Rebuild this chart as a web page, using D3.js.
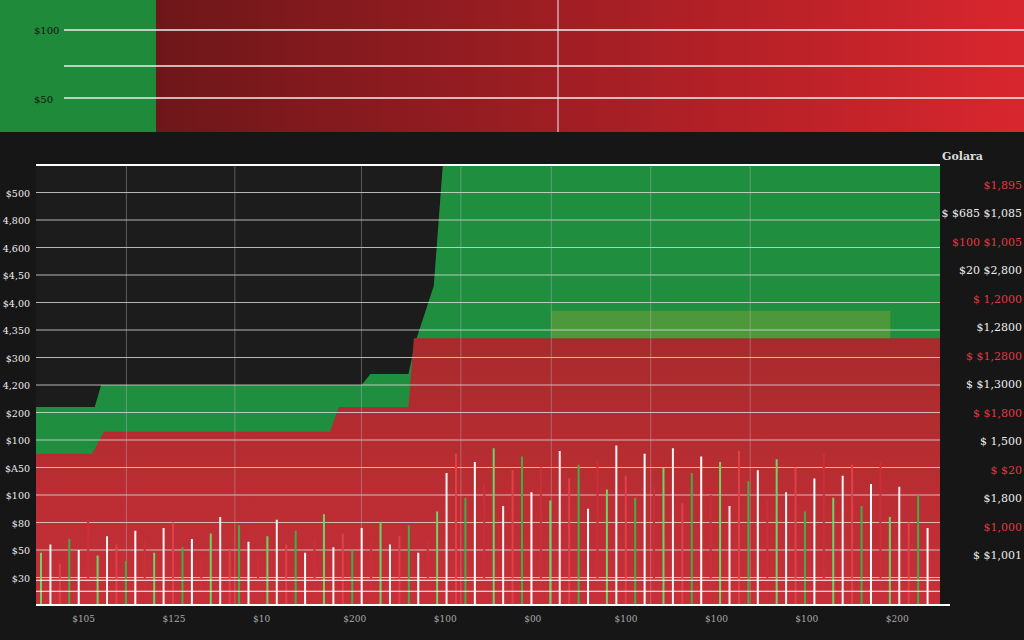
<!DOCTYPE html><html><head><meta charset="utf-8"><script src="https://cdn.jsdelivr.net/npm/d3@7"></script>
<style>body{margin:0;background:#1a1a1a}svg{display:block}</style></head><body><svg id="c" width="1024" height="640"></svg>
<script>
const topTicks=["$100","$50"];
const topLines=[102,66,34];
const yTicks=["$500","4,800","4,600","$4,50","$4,00","4,350","$300","4,200","$200","$100","$A50","$100","$80","$50","$30"];
const blackX=[0,6.5,7.2,36,37,41.2,42,44,45,100];
const blackBottom=[7.2,7.2,8.0,8.0,8.4,8.4,9.6,11.6,16,16];
const redX=[0,6.2,7.5,32.5,33.5,41.2,41.8,100];
const redTop=[5.5,5.5,6.3,6.3,7.2,7.2,9.7,9.7];
const bars=[1.9,2.2,1.5,2.4,2.0,3.1,1.8,2.5,2.2,1.6,2.7,2.3,1.9,2.8,3.0,2.1,2.4,1.7,2.6,3.2,2.0,2.9,2.3,1.8,2.5,3.1,2.2,2.7,1.9,2.4,3.3,2.1,2.6,2.0,2.8,2.3,3.0,2.2,2.5,2.9,1.9,2.4,3.4,4.8,5.5,3.9,5.2,4.4,5.7,3.6,4.9,5.4,4.1,5.0,3.8,5.6,4.6,5.1,3.5,5.3,4.2,5.8,4.7,3.9,5.5,4.3,5.0,5.7,3.7,4.8,5.4,4.0,5.2,3.6,5.6,4.5,4.9,3.8,5.3,4.1,5.0,3.4,4.6,5.5,3.9,4.7,5.1,3.6,4.4,5.2,3.2,4.3,3.0,4.0,2.8];
const barColors=["#6fd36a","#f2f2f2","#e0404a","#3fae4a","#ffffff","#c9303a"];
const legend=["Golara","$1,895","$ $685 $1,085","$100 $1,005","$20 $2,800","$ 1,2000","$1,2800","$ $1,2800","$ $1,3000","$ $1,800","$ 1,500","$ $20","$1,800","$1,000","$ $1,001"];
const svg=d3.select("#c");
const defs=svg.append("defs");
const g1=defs.append("linearGradient").attr("id","tg");
g1.append("stop").attr("offset","0").attr("stop-color","#5a1416");
g1.append("stop").attr("offset","1").attr("stop-color","#d9262e");
const g2=defs.append("linearGradient").attr("id","rg").attr("x2",0).attr("y2",1);
g2.append("stop").attr("offset","0").attr("stop-color","#a92a2c");
g2.append("stop").attr("offset","1").attr("stop-color","#c73038");
svg.append("rect").attr("width",1024).attr("height",640).attr("fill","#161616");
svg.append("rect").attr("x",0).attr("y",0).attr("width",1024).attr("height",132).attr("fill","url(#tg)");
svg.append("rect").attr("x",0).attr("y",0).attr("width",156).attr("height",132).attr("fill","#1f8a3a");
const ty=d3.scaleLinear().domain([0,132]).range([132,0]);
topLines.forEach(v=>svg.append("line").attr("x1",64).attr("x2",1024).attr("y1",ty(v)).attr("y2",ty(v)).attr("stroke","#eee").attr("stroke-width",1.5));
svg.append("line").attr("x1",558).attr("x2",558).attr("y1",0).attr("y2",132).attr("stroke","#eee");
svg.append("text").attr("x",34).attr("y",34).text(topTicks[0]).attr("fill","#111").attr("font-size",10).attr("font-family","DejaVu Serif");
svg.append("text").attr("x",34).attr("y",103).text(topTicks[1]).attr("fill","#111").attr("font-size",10).attr("font-family","DejaVu Serif");
const x=d3.scaleLinear().domain([0,100]).range([36,940]);
const y=d3.scaleLinear().domain([0,16]).range([605,165]);
svg.append("rect").attr("x",36).attr("y",165).attr("width",904).attr("height",440).attr("fill","#1f8f3f");
svg.append("path").datum(blackX).attr("d",d3.area().x(d=>x(d)).y0((d,i)=>y(blackBottom[i])).y1(y(16))).attr("fill","#1c1c1c");
svg.append("path").datum(redX).attr("d",d3.area().x(d=>x(d)).y0(y(0)).y1((d,i)=>y(redTop[i]))).attr("fill","url(#rg)");
svg.append("rect").attr("x",x(57)).attr("y",y(10.7)).attr("width",x(94.5)-x(57)).attr("height",y(9.7)-y(10.7)).attr("fill","#5a9a3c").attr("opacity",0.8);
svg.append("line").attr("x1",36).attr("x2",940).attr("y1",y(16)).attr("y2",y(16)).attr("stroke","#fff").attr("stroke-width",2);
for(let t=1;t<16;t++){svg.append("line").attr("x1",36).attr("x2",940).attr("y1",y(t)).attr("y2",y(t)).attr("stroke","#ddd").attr("stroke-width",1).attr("opacity",0.8);}
[10,22,36,47,57,68,79].forEach(v=>svg.append("line").attr("x1",x(v)).attr("x2",x(v)).attr("y1",165).attr("y2",605).attr("stroke","#bbb").attr("opacity",0.4));
const bx=d3.scaleBand().domain(d3.range(bars.length)).range([40,936]);
svg.selectAll(".b").data(bars).join("rect").attr("x",(d,i)=>bx(i)).attr("width",2).attr("y",d=>y(d)).attr("height",d=>y(0)-y(d)).attr("fill",(d,i)=>barColors[i%barColors.length]);
svg.append("line").attr("x1",36).attr("x2",950).attr("y1",y(0)).attr("y2",y(0)).attr("stroke","#fff").attr("stroke-width",2);
[0.5,0.9].forEach(v=>svg.append("line").attr("x1",36).attr("x2",940).attr("y1",y(v)).attr("y2",y(v)).attr("stroke","#fff"));
yTicks.forEach((t,i)=>svg.append("text").attr("x",30).attr("y",y(15-i)+4).attr("text-anchor","end").text(t).attr("fill","#eee").attr("font-size",9.5).attr("font-family","DejaVu Serif"));
["$105","$125","$10","$200","$100","$00","$100","$100","$100","$200"].forEach((t,i)=>svg.append("text").attr("x",x(i*10+4)).attr("y",622).text(t).attr("fill","#aaa").attr("font-size",9).attr("font-family","DejaVu Serif"));
legend.forEach((t,i)=>svg.append("text").attr("x",i==0?942:1022).attr("y",160+i*28.5).attr("text-anchor",i==0?"start":"end").text(t).attr("fill",i==0?"#ddd":(i%2?"#e03a40":"#eee")).attr("font-size",11).attr("font-weight",i==0?"bold":"normal").attr("font-family","DejaVu Serif"));
</script></body></html>
